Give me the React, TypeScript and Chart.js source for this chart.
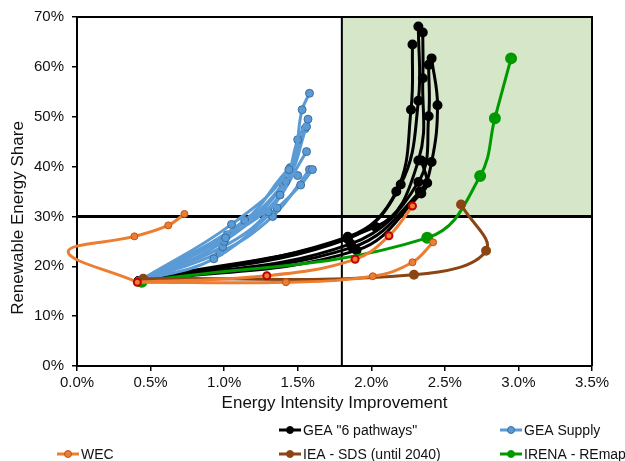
import React, { useEffect, useRef } from "react";
import { Chart, registerables } from "chart.js";

Chart.register(...registerables);

type Pt = [number, number];

// ---- axis settings ----
const X_MIN = 0;
const X_MAX = 3.5;
const X_STEP = 0.5;
const Y_MIN = 0;
const Y_MAX = 70;
const Y_STEP = 10;

// ---- target thresholds (quadrant lines) ----
const X_THRESHOLD = 1.8;
const Y_THRESHOLD = 30;

const X_TITLE = "Energy Intensity Improvement";
const Y_TITLE = "Renewable Energy Share";

// ---- series data (x = energy intensity improvement %, y = renewable share %) ----
const GEA_PATHWAYS: Pt[][] = [
  [[0.42, 17.0], [1.84, 25.9], [2.17, 35.0], [2.27, 51.4], [2.28, 64.5]],
  [[0.42, 17.0], [1.84, 25.5], [2.2, 36.4], [2.32, 53.2], [2.32, 68.1]],
  [[0.42, 17.0], [2.03, 27.9], [2.32, 41.2], [2.35, 57.7], [2.35, 66.9]],
  [[0.42, 17.0], [1.86, 24.5], [2.32, 36.9], [2.39, 50.1], [2.39, 60.4]],
  [[0.42, 17.0], [1.87, 23.8], [2.33, 35.0], [2.41, 40.9], [2.45, 52.3], [2.41, 61.7]],
  [[0.42, 17.0], [1.9, 23.2], [2.34, 34.6], [2.38, 36.7], [2.34, 41.2]],
];

const GEA_SUPPLY: Pt[][] = [
  [[0.42, 17.0], [1.05, 28.4], [1.44, 39.4], [1.53, 51.4], [1.58, 54.7]],
  [[0.42, 17.0], [1.01, 25.7], [1.38, 34.3], [1.5, 45.4], [1.57, 49.5]],
  [[0.42, 17.0], [1.0, 25.0], [1.42, 37.0], [1.56, 48.0]],
  [[0.42, 17.0], [0.99, 23.9], [1.3, 30.9], [1.56, 43.0]],
  [[0.42, 17.0], [0.93, 21.5], [1.36, 31.7], [1.52, 36.3], [1.6, 39.4]],
  [[0.42, 17.0], [1.14, 29.2], [1.45, 39.8], [1.5, 38.2]],
  [[0.42, 17.0], [1.02, 26.3], [1.4, 36.6], [1.55, 47.6]],
  [[0.42, 17.0], [0.97, 22.8], [1.33, 30.0], [1.58, 39.4]],
];

// WEC: one scenario loops left (loop vertex carries no marker) and two head right
const WEC_LOOP: Pt[] = [[0.73, 30.5], [0.62, 28.2], [0.39, 26.0], [-0.06, 22.9], [0.41, 16.8]];
const WEC_LOOP_MARKED: boolean[] = [true, true, true, false, false];
const WEC_LOW: Pt[] = [[0.41, 16.8], [1.42, 16.8], [2.01, 18.0], [2.28, 20.8], [2.42, 24.8]];
const WEC_RED: Pt[] = [[0.41, 16.8], [1.29, 18.1], [1.89, 21.4], [2.12, 26.1], [2.28, 32.1]];

const IEA_SDS: Pt[] = [[0.45, 17.5], [2.29, 18.3], [2.78, 23.1], [2.61, 32.4]];

const IRENA_REMAP: Pt[] = [[0.44, 16.9], [2.38, 25.7], [2.74, 38.1], [2.84, 49.7], [2.95, 61.7]];

// ---- colours ----
const C_BLACK = "#000000";
const C_BLUE = "#5B9BD5";
const C_BLUE_EDGE = "#3A6E9F";
const C_ORANGE = "#ED7D31";
const C_ORANGE_EDGE = "#B8551C";
const C_RED = "#C00000";
const C_BROWN = "#8B4513";
const C_GREEN = "#009A00";
const C_SHADE = "#D5E7C8";

const FONT = "'Liberation Sans', Arial, sans-serif";

const toXY = (pts: Pt[]) => pts.map(([x, y]) => ({ x, y }));

const LEGEND_ITEMS = [
  { label: 'GEA "6 pathways"', color: C_BLACK, fill: C_BLACK, edge: C_BLACK, x: 279, y: 430 },
  { label: "GEA Supply", color: C_BLUE, fill: C_BLUE, edge: C_BLUE_EDGE, x: 500, y: 430 },
  { label: "WEC", color: C_ORANGE, fill: C_ORANGE, edge: C_ORANGE_EDGE, x: 57, y: 454 },
  { label: "IEA - SDS (until 2040)", color: C_BROWN, fill: C_BROWN, edge: C_BROWN, x: 279, y: 454 },
  { label: "IRENA - REmap", color: C_GREEN, fill: C_GREEN, edge: C_GREEN, x: 500, y: 454 },
];

const quadrantPlugin = {
  id: "quadrants",
  beforeDatasetsDraw(chart: any) {
    const { ctx, chartArea: a, scales } = chart;
    const xs = scales.x;
    const ys = scales.y;
    const px = xs.getPixelForValue(X_THRESHOLD);
    const py = ys.getPixelForValue(Y_THRESHOLD);
    const pTop = ys.getPixelForValue(Y_MAX);
    const pRight = xs.getPixelForValue(X_MAX);
    ctx.save();
    ctx.fillStyle = C_SHADE;
    ctx.fillRect(px, pTop, pRight - px, py - pTop);
    ctx.strokeStyle = "#000";
    ctx.lineWidth = 2;
    ctx.beginPath();
    ctx.moveTo(px, a.top);
    ctx.lineTo(px, a.bottom);
    ctx.stroke();
    ctx.lineWidth = 3;
    ctx.beginPath();
    ctx.moveTo(a.left, py);
    ctx.lineTo(a.right, py);
    ctx.stroke();
    // top and right frame
    ctx.lineWidth = 2;
    ctx.beginPath();
    ctx.moveTo(a.left, a.top);
    ctx.lineTo(a.right, a.top);
    ctx.lineTo(a.right, a.bottom);
    ctx.stroke();
    ctx.restore();
  },
  afterDraw(chart: any) {
    const { ctx, chartArea: a } = chart;
    ctx.save();
    ctx.fillStyle = "#111";
    ctx.font = `17px ${FONT}`;
    ctx.textAlign = "center";
    ctx.textBaseline = "middle";
    ctx.fillText(X_TITLE, (a.left + a.right) / 2, 403);
    ctx.save();
    ctx.translate(18, 218);
    ctx.rotate(-Math.PI / 2);
    ctx.fillText(Y_TITLE, 0, 0);
    ctx.restore();

    ctx.font = `14px ${FONT}`;
    ctx.textAlign = "left";
    for (const it of LEGEND_ITEMS) {
      ctx.strokeStyle = it.color;
      ctx.lineWidth = 3;
      ctx.beginPath();
      ctx.moveTo(it.x, it.y);
      ctx.lineTo(it.x + 22, it.y);
      ctx.stroke();
      ctx.beginPath();
      ctx.arc(it.x + 11, it.y, 3.5, 0, Math.PI * 2);
      ctx.fillStyle = it.fill;
      ctx.fill();
      ctx.lineWidth = 1;
      ctx.strokeStyle = it.edge;
      ctx.stroke();
      ctx.fillStyle = "#111";
      ctx.fillText(it.label, it.x + 24, it.y + 1);
    }
    ctx.restore();
  },
};

export default function App() {
  const ref = useRef<HTMLCanvasElement | null>(null);

  useEffect(() => {
    if (!ref.current) return;
    Chart.defaults.font.family = FONT;
    const line = { showLine: true, tension: 0.4, borderWidth: 3, fill: false };

    const wecStyle = {
      ...line,
      label: "WEC",
      borderColor: C_ORANGE,
      pointBackgroundColor: C_ORANGE,
      pointBorderColor: C_ORANGE_EDGE,
      pointBorderWidth: 1,
      pointRadius: 3.5,
    };

    const datasets: any[] = [];
    datasets.push({
      ...wecStyle,
      data: toXY(WEC_RED),
      pointBorderColor: C_RED,
      pointBorderWidth: 2,
    });
    datasets.push({ ...wecStyle, data: toXY(WEC_LOW) });
    datasets.push({
      ...wecStyle,
      data: toXY(WEC_LOOP),
      pointRadius: WEC_LOOP_MARKED.map((m) => (m ? 3.5 : 0)),
      clip: false,
    });
    datasets.push({
      ...line,
      label: "IEA - SDS (until 2040)",
      data: toXY(IEA_SDS),
      borderColor: C_BROWN,
      pointBackgroundColor: C_BROWN,
      pointBorderColor: C_BROWN,
      pointRadius: 3.5,
    });
    datasets.push({
      ...line,
      label: "IRENA - REmap",
      data: toXY(IRENA_REMAP),
      borderColor: C_GREEN,
      pointBackgroundColor: C_GREEN,
      pointBorderColor: C_GREEN,
      pointRadius: 4.5,
    });
    GEA_SUPPLY.forEach((s) =>
      datasets.push({
        ...line,
        label: "GEA Supply",
        data: toXY(s),
        borderColor: C_BLUE,
        pointBackgroundColor: C_BLUE,
        pointBorderColor: C_BLUE_EDGE,
        pointBorderWidth: 1,
        pointRadius: 4,
      })
    );
    GEA_PATHWAYS.forEach((s) =>
      datasets.push({
        ...line,
        label: 'GEA "6 pathways"',
        data: toXY(s),
        borderColor: C_BLACK,
        pointBackgroundColor: C_BLACK,
        pointBorderColor: C_BLACK,
        pointRadius: 3.5,
      })
    );

    const chart = new Chart(ref.current, {
      type: "scatter",
      data: { datasets },
      plugins: [quadrantPlugin],
      options: {
        animation: false,
        responsive: true,
        maintainAspectRatio: false,
        layout: { padding: { top: 16, right: 33, left: 0, bottom: 0 } },
        elements: { line: { capBezierPoints: false } },
        plugins: { legend: { display: false }, tooltip: { enabled: false } },
        scales: {
          x: {
            type: "linear",
            min: X_MIN,
            max: X_MAX,
            afterFit: (s: any) => {
              s.height = 95;
            },
            ticks: {
              stepSize: X_STEP,
              color: "#111",
              font: { size: 15 },
              padding: 3,
              maxRotation: 0,
              callback: (v: any) => Number(v).toFixed(1) + "%",
            },
            grid: { drawOnChartArea: false, color: "#000", tickLength: 5, lineWidth: 1.5 },
            border: { color: "#000", width: 2 },
          },
          y: {
            type: "linear",
            min: Y_MIN,
            max: Y_MAX,
            afterFit: (s: any) => {
              s.width = 77;
            },
            ticks: {
              stepSize: Y_STEP,
              color: "#111",
              font: { size: 15 },
              padding: 8,
              callback: (v: any) => v + "%",
            },
            grid: { drawOnChartArea: false, color: "#000", tickLength: 5, lineWidth: 1.5 },
            border: { color: "#000", width: 2 },
          },
        },
      },
    });
    return () => chart.destroy();
  }, []);

  return (
    <div style={{ position: "absolute", left: 0, top: 0, width: 625, height: 461, background: "#fff" }}>
      <canvas ref={ref} />
    </div>
  );
}
